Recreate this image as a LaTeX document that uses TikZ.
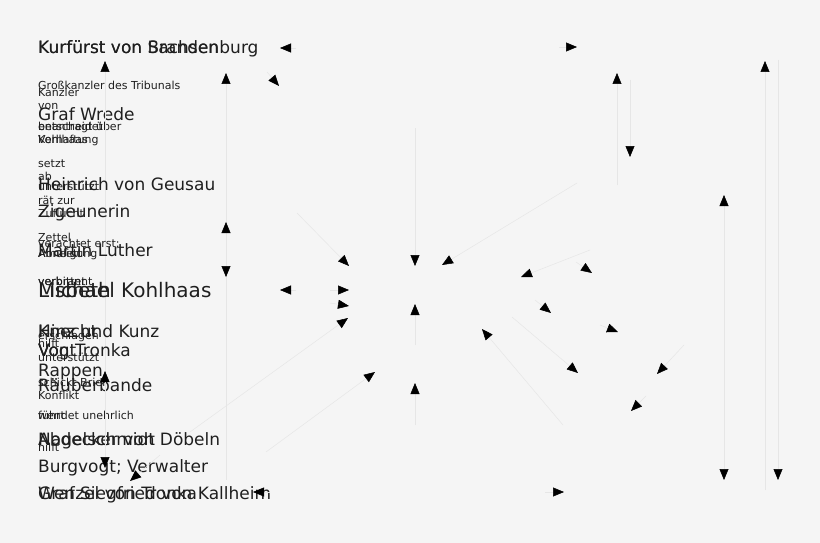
\documentclass[tikz,border=0pt]{standalone}
\usepackage{fontspec}
\setmainfont{DejaVu Sans}
\usetikzlibrary{arrows.meta}
\definecolor{bgc}{HTML}{F5F5F5}
\definecolor{edgec}{HTML}{E6E6E6}
\tikzset{
  big/.style={anchor=base west,inner sep=0pt,font=\fontsize{17}{17}\selectfont,text=black!88},
  huge/.style={anchor=base west,inner sep=0pt,font=\fontsize{20}{20}\selectfont,text=black!88},
  small/.style={anchor=base west,inner sep=0pt,font=\fontsize{11}{11}\selectfont,text=black!88},
  rel/.style={draw=edgec,line width=0.5pt,-{Triangle[length=11pt,width=9pt,color=black,fill=black]}}
}
\begin{document}
\begin{tikzpicture}[x=1pt,y=-1pt]
\fill[bgc] (0,0) rectangle (820,543);
\useasboundingbox (0,0) rectangle (820,543);
% faint vertical lines
\draw[edgec,line width=0.5pt] (105,70) -- (105,470);
\draw[edgec,line width=0.5pt] (226,80) -- (226,480);
% big labels (baselines)
\node[big] (kb) at (38,54) {Kurfürst von Brandenburg};
\node[big] (ks) at (38,54) {Kurfürst von Sachsen};
\node[big] (gw) at (38,121) {Graf Wrede};
\node[big] (hg) at (38,190) {Heinrich von Geusau};
\node[big] (zi) at (38,217) {Zigeunerin};
\node[big] (ml) at (38,256) {Martin Luther};
\node[huge] (mk) at (38,297) {Michael Kohlhaas};
\node[huge] (li) at (38,297) {Lisbeth};
\node[big] (hk) at (38,337) {Hinz und Kunz};
\node[big] (kn) at (38,337) {Knecht};
\node[big] (vt) at (38,356) {Von Tronka};
\node[big] (vo) at (38,356) {Vogt};
\node[big] (ra) at (38,376) {Rappen};
\node[big] (rb) at (38,391) {Räuberbande};
\node[big] (na) at (38,445) {Nagelschmidt};
\node[big] (ad) at (38,445) {Abdecker von Döbeln};
\node[big] (bv) at (38,472) {Burgvogt; Verwalter};
\node[big] (wt) at (38,499) {Wenzel von Tronka};
\node[big] (gs) at (38,499) {Graf Siegfried von Kallheim};
% small labels (baselines)
\node[small] (l1) at (38,89) {Großkanzler des Tribunals};
\node[small] (l2) at (38,97) {Kanzler};
\node[small] (l3) at (38,110) {von};
\node[small] (l4) at (38,130) {beantragt über};
\node[small] (l5) at (38,130) {entscheidet};
\node[small] (l6) at (38,143) {Kohlhaas};
\node[small] (l7) at (38,143) {Verhaftung};
\node[small] (l8) at (38,167) {setzt};
\node[small] (l9) at (38,180) {ab};
\node[small] (l10) at (38,190) {unterstützt};
\node[small] (l11) at (38,204) {rät zur};
\node[small] (l12) at (38,217) {Zuflucht};
\node[small] (l13) at (38,241) {Zettel};
\node[small] (l14) at (38,247) {verachtet erst;};
\node[small] (l15) at (38,257) {Amulett};
\node[small] (l16) at (38,257) {Abneigung};
\node[small] (l17) at (38,285) {verbrannt};
\node[small] (l18) at (38,285) {verbittet};
\node[small] (l19) at (38,339) {erschlagen};
\node[small] (l20) at (38,347) {hilft};
\node[small] (l21) at (38,361) {unterstützt};
\node[small] (l22) at (38,386) {schickt Brief};
\node[small] (l23) at (38,399) {Konflikt};
\node[small] (l24) at (38,419) {führt};
\node[small] (l25) at (38,419) {wendet unehrlich};
\node[small] (l26) at (38,451) {hilft};
% arrow end points
\foreach \n/\x/\y in {
 a1s/296/48, a1e/280/48, a2s/559/47, a2e/577/47, a3s/267/72, a3e/279/86,
 a4s/105/160, a4e/105/61, a5s/226/200, a5e/226/73, a6s/617/185, a6e/617/73,
 a7s/630/80, a7e/630/157, a8s/765/490, a8e/765/61, a9s/724/340, a9e/724/195,
 a10s/226/250, a10e/226/222, a11e/226/277, a12s/297/213, a12e/349/266,
 a13s/415/128, a13e/415/266, a14s/577/183, a14e/442/265, a15s/590/250, a15e/521/277,
 a16s/576/262, a16e/592/273, a17s/296/290, a17e/280/290, a18s/330/290, a18e/349/290,
 a19s/330/303, a19e/349/306, a20s/190/432, a20e/348/318, a21s/415/345, a21e/415/304,
 a22s/535/300, a22e/551/313, a23s/600/325, a23e/618/332, a24s/563/425, a24e/482/329,
 a25s/512/317, a25e/578/373, a26s/684/345, a26e/657/374, a27s/646/396, a27e/631/411,
 a28s/266/452, a28e/375/372, a29s/415/425, a29e/415/383, a30s/105/430, a30e/105/371,
 a31s/105/400, a31e/105/468, a32s/160/455, a32e/130/481, a33s/270/492, a33e/253/492,
 a34s/545/492, a34e/564/492, a35s/778/60, a35e/778/480, a36e/724/480}
 {\coordinate (\n) at (\x,\y);}
\foreach \s/\e in {a1s/a1e, a2s/a2e, a3s/a3e, a4s/a4e, a5s/a5e, a6s/a6e, a7s/a7e,
 a8s/a8e, a9s/a9e, a10s/a10e, a10s/a11e, a12s/a12e, a13s/a13e, a14s/a14e, a15s/a15e,
 a16s/a16e, a17s/a17e, a18s/a18e, a19s/a19e, a20s/a20e, a21s/a21e, a22s/a22e,
 a23s/a23e, a24s/a24e, a25s/a25e, a26s/a26e, a27s/a27e, a28s/a28e, a29s/a29e,
 a30s/a30e, a31s/a31e, a32s/a32e, a33s/a33e, a34s/a34e, a35s/a35e, a9s/a36e}
 {\draw[rel] (\s) -- (\e);}
\end{tikzpicture}
\end{document}
